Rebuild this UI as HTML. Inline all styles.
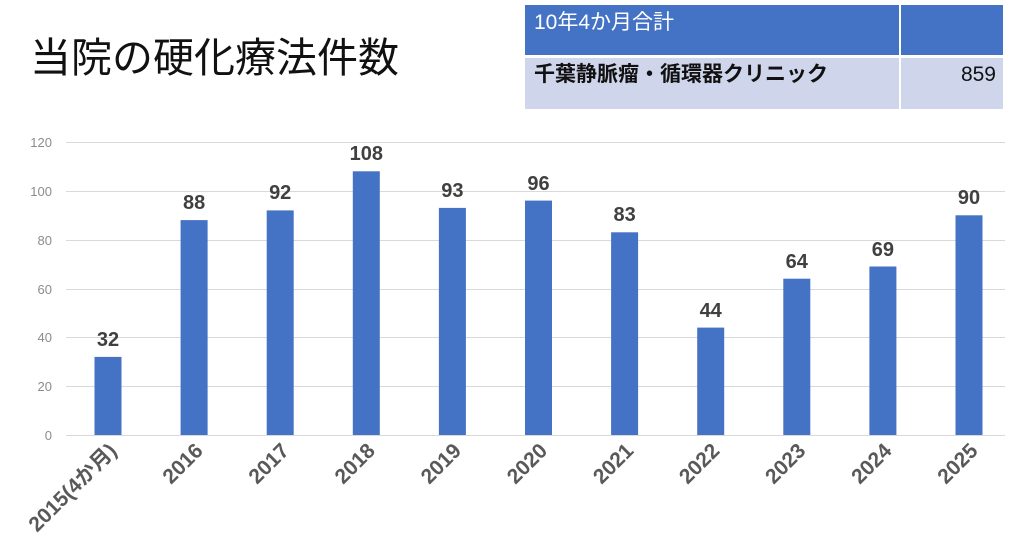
<!DOCTYPE html>
<html><head><meta charset="utf-8"><style>
body{margin:0;background:#fff;width:1024px;height:559px;overflow:hidden;font-family:"Liberation Sans","Noto Sans CJK JP",sans-serif}
</style></head><body>
<svg width="1024" height="559" xmlns="http://www.w3.org/2000/svg" style="position:absolute;left:0;top:0;font-family:'Liberation Sans','Noto Sans CJK JP',sans-serif">
<text x="30" y="72" font-size="41" fill="#111">当院の硬化療法件数</text>
<rect x="525" y="5" width="374" height="50" fill="#4472C4"/>
<rect x="901" y="5" width="102" height="50" fill="#4472C4"/>
<rect x="525" y="58" width="374" height="51" fill="#CFD5EA"/>
<rect x="901" y="58" width="102" height="51" fill="#CFD5EA"/>
<text x="534" y="29" font-size="21" fill="#fff">10年4か月合計</text>
<text x="534" y="81" font-size="21" font-weight="bold" fill="#111">千葉静脈瘤・循環器クリニック</text>
<text x="996" y="81" font-size="21" text-anchor="end" fill="#111">859</text>
<g stroke="#d9d9d9" stroke-width="1">
<line x1="66" x2="1005" y1="142.5" y2="142.5"/><line x1="66" x2="1005" y1="191.5" y2="191.5"/><line x1="66" x2="1005" y1="240.5" y2="240.5"/><line x1="66" x2="1005" y1="289.5" y2="289.5"/><line x1="66" x2="1005" y1="337.5" y2="337.5"/><line x1="66" x2="1005" y1="386.5" y2="386.5"/><line x1="66" x2="1005" y1="435.5" y2="435.5"/>
</g>
<g font-size="13" fill="#8c8c8c" text-anchor="end">
<text x="52" y="147">120</text><text x="52" y="196">100</text><text x="52" y="245">80</text><text x="52" y="294">60</text><text x="52" y="342">40</text><text x="52" y="391">20</text><text x="52" y="440">0</text>
</g>
<g fill="#4472C4">
<rect x="94.5" y="356.9" width="27" height="78.1"/>
<rect x="180.6" y="220.1" width="27" height="214.9"/>
<rect x="266.7" y="210.4" width="27" height="224.6"/>
<rect x="352.8" y="171.3" width="27" height="263.7"/>
<rect x="438.9" y="207.9" width="27" height="227.1"/>
<rect x="525" y="200.6" width="27" height="234.4"/>
<rect x="611.1" y="232.3" width="27" height="202.7"/>
<rect x="697.2" y="327.6" width="27" height="107.4"/>
<rect x="783.3" y="278.7" width="27" height="156.3"/>
<rect x="869.4" y="266.5" width="27" height="168.5"/>
<rect x="955.5" y="215.3" width="27" height="219.7"/>
</g>
<g font-size="20" font-weight="bold" fill="#404040" text-anchor="middle">
<text x="108" y="346">32</text>
<text x="194.1" y="209">88</text>
<text x="280.2" y="199">92</text>
<text x="366.3" y="160">108</text>
<text x="452.4" y="197">93</text>
<text x="538.5" y="190">96</text>
<text x="624.6" y="221">83</text>
<text x="710.7" y="317">44</text>
<text x="796.8" y="268">64</text>
<text x="882.9" y="256">69</text>
<text x="969" y="204">90</text>
</g>
<g font-size="21" font-weight="bold" fill="#595959" text-anchor="end">
<text transform="translate(118,452) rotate(-45)">2015(4か月)</text>
<text transform="translate(204.1,452) rotate(-45)">2016</text>
<text transform="translate(290.2,452) rotate(-45)">2017</text>
<text transform="translate(376.3,452) rotate(-45)">2018</text>
<text transform="translate(462.4,452) rotate(-45)">2019</text>
<text transform="translate(548.5,452) rotate(-45)">2020</text>
<text transform="translate(634.6,452) rotate(-45)">2021</text>
<text transform="translate(720.7,452) rotate(-45)">2022</text>
<text transform="translate(806.8,452) rotate(-45)">2023</text>
<text transform="translate(892.9,452) rotate(-45)">2024</text>
<text transform="translate(979,452) rotate(-45)">2025</text>
</g>
</svg>
</body></html>
